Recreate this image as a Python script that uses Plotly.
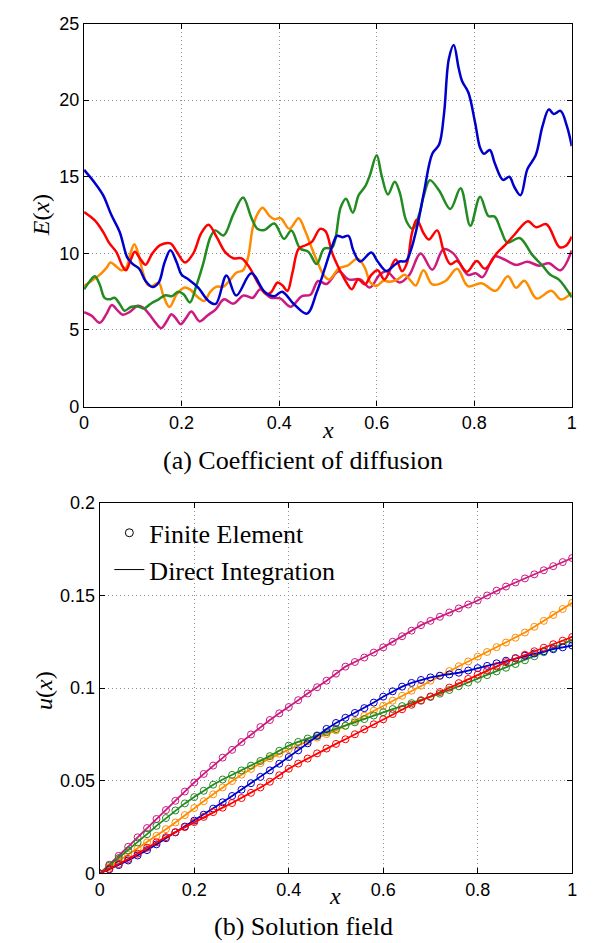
import plotly.graph_objects as go

# ---- (a) coefficient of diffusion E(x): five random realisations ----
blue_x = [0, 0.022, 0.039, 0.056, 0.073, 0.089, 0.1, 0.113, 0.126, 0.14, 0.153, 0.165, 0.177, 0.19, 0.2,
          0.214, 0.233, 0.255, 0.27, 0.292, 0.312, 0.343, 0.37, 0.39, 0.406, 0.43, 0.457, 0.477, 0.495,
          0.509, 0.519, 0.53, 0.542, 0.552, 0.566, 0.589, 0.602, 0.62, 0.633, 0.647, 0.66, 0.67, 0.684,
          0.697, 0.714, 0.728, 0.738, 0.748, 0.758, 0.768, 0.775, 0.788, 0.802, 0.812, 0.82, 0.832, 0.842,
          0.859, 0.872, 0.882, 0.895, 0.909, 0.926, 0.94, 0.953, 0.963, 0.977, 0.99, 1.0]
blue_E = [15.45, 14.6, 13.8, 12.5, 11.4, 9.7, 9.3, 9.0, 8.2, 7.8, 8.1, 9.4, 10.2, 9.4, 8.6,
          8.3, 7.8, 6.9, 6.7, 8.55, 7.25, 8.7, 7.5, 7.2, 7.5, 6.7, 6.07, 7.46, 9.15,
          10.5, 11.15, 11.05, 11.15, 10.2, 9.47, 10.05, 9.47, 8.85, 9.15, 9.47, 9.5, 10.2, 11.9,
          14.0, 16.5, 17.1, 19.1, 22.7, 23.6, 22.1, 21.25, 20.5, 18.5, 16.9, 16.5, 16.75, 15.9,
          14.8, 15.0, 14.35, 13.8, 15.5, 16.4, 18.3, 19.4, 19.1, 19.3, 18.3, 17.0]

red_x = [0, 0.022, 0.039, 0.052, 0.066, 0.079, 0.086, 0.096, 0.104, 0.116, 0.126, 0.14, 0.157, 0.177,
         0.19, 0.207, 0.224, 0.24, 0.255, 0.272, 0.289, 0.306, 0.323, 0.34, 0.356, 0.373, 0.383, 0.397,
         0.407, 0.417, 0.427, 0.44, 0.454, 0.467, 0.484, 0.495, 0.509, 0.526, 0.538, 0.549, 0.562, 0.576,
         0.589, 0.602, 0.616, 0.639, 0.652, 0.662, 0.672, 0.682, 0.697, 0.707, 0.724, 0.737, 0.751, 0.765,
         0.785, 0.805, 0.822, 0.846, 0.862, 0.882, 0.91, 0.927, 0.948, 0.975, 0.988, 1.0]
red_E = [12.7, 12.15, 11.4, 10.65, 10.1, 9.15, 8.9, 9.6, 10.1, 9.6, 9.26, 10.0, 10.55, 10.65,
         10.1, 9.4, 10.0, 11.3, 11.87, 11.06, 10.1, 9.68, 9.68, 9.04, 8.1, 7.35, 7.45, 8.1,
         7.9, 7.55, 8.7, 10.3, 10.53, 10.75, 11.6, 11.45, 10.0, 8.8, 8.1, 7.66, 8.3, 7.98,
         8.6, 8.9, 8.3, 9.6, 8.83, 9.36, 11.27, 12.2, 11.27, 10.9, 11.5, 10.2, 9.3, 9.5,
         8.8, 9.5, 9.0, 10.0, 10.5, 11.2, 12.1, 11.7, 11.9, 10.4, 10.5, 11.1]

green_x = [0, 0.012, 0.022, 0.032, 0.042, 0.052, 0.0625, 0.073, 0.083, 0.096, 0.11, 0.123, 0.136, 0.153,
           0.167, 0.18, 0.193, 0.204, 0.217, 0.23, 0.244, 0.259, 0.269, 0.286, 0.306, 0.326, 0.343, 0.356,
           0.37, 0.39, 0.41, 0.425, 0.443, 0.46, 0.477, 0.492, 0.509, 0.526, 0.537, 0.551, 0.563, 0.576,
           0.586, 0.6, 0.61, 0.623, 0.637, 0.647, 0.661, 0.674, 0.688, 0.697, 0.709, 0.728, 0.751, 0.772,
           0.792, 0.812, 0.829, 0.842, 0.855, 0.868, 0.893, 0.919, 0.94, 0.956, 0.973, 1.0]
green_E = [7.65, 8.2, 8.5, 7.97, 7.1, 7.0, 7.1, 6.7, 6.26, 6.5, 6.54, 6.4, 6.7, 7.0,
           7.27, 7.2, 7.5, 7.33, 6.8, 7.87, 9.3, 11.06, 11.5, 11.17, 12.55, 13.65, 12.33, 11.59,
           11.53, 11.95, 10.95, 11.5, 10.32, 10.1, 9.3, 10.3, 10.4, 13.0, 13.57, 12.66, 13.8, 14.35,
           15.1, 16.4, 15.1, 13.85, 14.67, 14.0, 12.1, 11.6, 12.65, 13.8, 14.78, 14.1, 12.9, 14.25,
           11.8, 13.7, 12.44, 12.4, 11.5, 10.7, 11.0, 9.9, 9.2, 8.6, 8.3, 7.13]

orange_x = [0, 0.015, 0.032, 0.046, 0.054, 0.066, 0.076, 0.086, 0.095, 0.103, 0.111, 0.12, 0.13, 0.14,
            0.153, 0.163, 0.175, 0.19, 0.205, 0.217, 0.234, 0.247, 0.259, 0.272, 0.286, 0.299, 0.312,
            0.326, 0.336, 0.346, 0.356, 0.366, 0.38, 0.39, 0.403, 0.421, 0.44, 0.453, 0.466, 0.479, 0.493,
            0.503, 0.523, 0.54, 0.561, 0.576, 0.587, 0.6, 0.613, 0.627, 0.643, 0.657, 0.67, 0.68, 0.696,
            0.714, 0.741, 0.765, 0.787, 0.815, 0.844, 0.869, 0.886, 0.903, 0.928, 0.958, 0.978, 1.0]
orange_E = [7.87, 8.2, 8.6, 9.05, 9.4, 9.15, 8.9, 9.05, 10.0, 10.6, 10.0, 8.83, 7.97, 7.87,
            8.08, 7.2, 6.5, 7.33, 7.76, 7.65, 7.12, 6.9, 7.5, 7.83, 7.83, 8.26, 8.74,
            8.9, 9.7, 11.7, 12.6, 12.98, 12.45, 12.23, 12.3, 11.6, 12.3, 11.49, 10.42, 9.4, 8.5,
            8.3, 9.04, 9.2, 9.65, 9.04, 8.1, 7.87, 8.2, 8.15, 8.3, 8.6, 8.2, 7.9, 8.9,
            7.98, 8.2, 9.0, 7.86, 8.05, 7.56, 8.5, 7.75, 8.22, 7.05, 7.56, 6.99, 7.44]

magenta_x = [0, 0.015, 0.032, 0.046, 0.057, 0.069, 0.079, 0.093, 0.11, 0.12, 0.133, 0.146, 0.158, 0.17,
             0.179, 0.187, 0.198, 0.209, 0.22, 0.237, 0.253, 0.27, 0.287, 0.306, 0.327, 0.346, 0.361,
             0.382, 0.402, 0.424, 0.446, 0.464, 0.48, 0.497, 0.522, 0.542, 0.566, 0.586, 0.606, 0.62,
             0.647, 0.667, 0.69, 0.714, 0.737, 0.757, 0.787, 0.803, 0.817, 0.842, 0.862, 0.886, 0.909,
             0.933, 0.953, 0.977, 1.0]
magenta_E = [6.16, 5.94, 5.47, 6.05, 6.63, 6.26, 6.0, 6.16, 6.58, 6.48, 6.05, 5.5, 5.12, 5.6,
             6.03, 5.8, 5.38, 5.77, 6.2, 5.56, 5.95, 6.35, 7.0, 6.72, 7.25, 7.1, 7.65,
             7.12, 7.06, 6.52, 7.2, 7.3, 8.2, 8.0, 8.83, 8.3, 8.3, 7.77, 8.6, 8.83,
             8.1, 8.6, 10.0, 8.93, 10.28, 10.0, 8.6, 8.7, 8.45, 9.8, 9.6, 9.25, 9.45,
             9.2, 9.35, 8.9, 10.2]

# ---- (b) solution field u(x), 51 nodes ----
x_nodes = [0.0, 0.02, 0.04, 0.06, 0.08, 0.1, 0.12, 0.14, 0.16, 0.18, 0.2, 0.22, 0.24, 0.26, 0.28, 0.3,
           0.32, 0.34, 0.36, 0.38, 0.4, 0.42, 0.44, 0.46, 0.48, 0.5, 0.52, 0.54, 0.56, 0.58, 0.6, 0.62,
           0.64, 0.66, 0.68, 0.7, 0.72, 0.74, 0.76, 0.78, 0.8, 0.82, 0.84, 0.86, 0.88, 0.9, 0.92, 0.94,
           0.96, 0.98, 1.0]
blue_u = [0, .0022, .0045, .0070, .0097, .0126, .0157, .0190, .0222, .0253, .0285, .0317, .0350, .0384,
          .0418, .0452, .0487, .0521, .0556, .0592, .0628, .0664, .0702, .0742, .0780, .0812, .0840,
          .0866, .0892, .0922, .0954, .0983, .1008, .1028, .1044, .1058, .1067, .1074, .1083, .1095,
          .1108, .1120, .1134, .1148, .1162, .1175, .1187, .1199, .1210, .1220, .1230]
red_u = [0, .0025, .0051, .0078, .0107, .0139, .0168, .0196, .0223, .0250, .0277, .0305, .0331, .0355,
         .0380, .0407, .0435, .0464, .0495, .0530, .0565, .0593, .0620, .0648, .0674, .0699, .0724,
         .0751, .0778, .0805, .0832, .0860, .0886, .0910, .0932, .0955, .0979, .1003, .1027, .1050,
         .1073, .1096, .1118, .1140, .1160, .1180, .1199, .1218, .1237, .1256, .1276]
green_u = [0, .0042, .0083, .0124, .0167, .0212, .0257, .0299, .0340, .0378, .0412, .0446, .0479, .0507,
           .0532, .0556, .0582, .0607, .0633, .0662, .0690, .0710, .0728, .0745, .0762, .0779, .0797,
           .0815, .0833, .0852, .0870, .0887, .0903, .0919, .0935, .0952, .0970, .0990, .1010, .1030,
           .1050, .1070, .1090, .1110, .1130, .1150, .1172, .1194, .1215, .1237, .1260]
orange_u = [0, .0034, .0068, .0101, .0134, .0168, .0203, .0239, .0275, .0315, .0353, .0390, .0427, .0464,
            .0499, .0533, .0564, .0595, .0621, .0646, .0670, .0692, .0713, .0733, .0752, .0772, .0797,
            .0824, .0851, .0878, .0905, .0932, .0959, .0986, .1013, .1040, .1066, .1092, .1118, .1144,
            .1170, .1195, .1221, .1246, .1272, .1300, .1331, .1363, .1395, .1427, .1460]
magenta_u = [0, .0047, .0095, .0144, .0195, .0245, .0294, .0342, .0392, .0442, .0491, .0537, .0582, .0625,
             .0667, .0709, .0750, .0790, .0828, .0864, .0898, .0935, .0971, .1005, .1040, .1078, .1116,
             .1141, .1165, .1192, .1220, .1250, .1280, .1310, .1340, .1363, .1385, .1408, .1430, .1451,
             .1473, .1500, .1526, .1548, .1570, .1592, .1614, .1636, .1658, .1680, .1702]

x_ticks = [0, 0.2, 0.4, 0.6, 0.8, 1]
x_ticktext = ["0", "0.2", "0.4", "0.6", "0.8", "1"]
E_ticks = [0, 5, 10, 15, 20, 25]
E_ticktext = ["0", "5", "10", "15", "20", "25"]
u_ticks = [0, 0.05, 0.1, 0.15, 0.2]
u_ticktext = ["0", "0.05", "0.1", "0.15", "0.2"]

legend_names = ["Finite Element", "Direct Integration"]

colors = {"blue": "#0000CC", "red": "#FF0000", "green": "#228B22",
          "orange": "#FF8C00", "magenta": "#CC1A80"}

fig = go.Figure()

# top panel curves
top_series = [("magenta", magenta_x, magenta_E), ("orange", orange_x, orange_E),
              ("green", green_x, green_E), ("red", red_x, red_E), ("blue", blue_x, blue_E)]
for name, xs, ys in top_series:
    fig.add_trace(go.Scatter(x=xs, y=ys, mode="lines", showlegend=False,
                             line=dict(color=colors[name], width=2.5, shape="spline", smoothing=1.0),
                             xaxis="x", yaxis="y"))

# bottom panel: FE nodes (circles) + direct integration (line)
bottom_series = [("magenta", magenta_u), ("orange", orange_u), ("green", green_u),
                 ("blue", blue_u), ("red", red_u)]
for name, us in bottom_series:
    fig.add_trace(go.Scatter(x=x_nodes, y=us, mode="lines+markers", showlegend=False,
                             line=dict(color=colors[name], width=1.8),
                             marker=dict(symbol="circle-open", size=7, color=colors[name],
                                         line=dict(width=1, color=colors[name])),
                             xaxis="x2", yaxis="y2"))

# legend entries in black
fig.add_trace(go.Scatter(x=[None], y=[None], mode="markers", name=legend_names[0],
                         marker=dict(symbol="circle-open", size=8, color="black",
                                     line=dict(width=1, color="black")),
                         xaxis="x2", yaxis="y2"))
fig.add_trace(go.Scatter(x=[None], y=[None], mode="lines", name=legend_names[1],
                         line=dict(color="black", width=1), xaxis="x2", yaxis="y2"))

W, H = 596, 943
tick_font = dict(family="Liberation Sans", size=18, color="black")
axis_common = dict(showline=True, linecolor="black", linewidth=1.3, mirror="ticks",
                   ticks="inside", ticklen=5, tickcolor="black", tickwidth=1,
                   showgrid=True, gridcolor="#909090", griddash="1px,3px", gridwidth=1,
                   zeroline=False, tickfont=tick_font)

fig.update_layout(
    width=W, height=H,
    margin=dict(l=0, r=0, t=0, b=0),
    paper_bgcolor="white", plot_bgcolor="white",
    xaxis=dict(domain=[72.3 / W, 568.3 / W], range=[0, 1], tickvals=x_ticks,
               ticktext=x_ticktext, anchor="y", **axis_common),
    yaxis=dict(domain=[1 - 397 / H, 1 - 5.7 / H], range=[0, 25], tickvals=E_ticks,
               ticktext=E_ticktext, anchor="x", **axis_common),
    xaxis2=dict(domain=[88.3 / W, 568.7 / W], range=[0, 1], tickvals=x_ticks,
                ticktext=x_ticktext, anchor="y2", **axis_common),
    yaxis2=dict(domain=[1 - 874 / H, 1 - 495.3 / H], range=[0, 0.2], tickvals=u_ticks,
                ticktext=u_ticktext, anchor="x2", **axis_common),
    legend=dict(x=98 / W, y=1 - 502 / H, xanchor="left", yanchor="top",
                bgcolor="rgba(0,0,0,0)", borderwidth=0,
                font=dict(family="Liberation Serif", size=26, color="black"),
                itemwidth=30, tracegroupgap=0),
)

serif = "Liberation Serif"
annotations = [
    dict(text="<i>E</i>(<i>x</i>)", x=28 / W, y=1 - 202 / H, textangle=-90, size=24),
    dict(text="<i>x</i>", x=320 / W, y=1 - 421 / H, textangle=0, size=24),
    dict(text="(a) Coefficient of diffusion", x=295 / W, y=1 - 452 / H, textangle=0, size=26),
    dict(text="<i>u</i>(<i>x</i>)", x=32 / W, y=1 - 687 / H, textangle=-90, size=24),
    dict(text="<i>x</i>", x=328 / W, y=1 - 897 / H, textangle=0, size=24),
    dict(text="(b) Solution field", x=295 / W, y=1 - 928 / H, textangle=0, size=26),
]
for a in annotations:
    fig.add_annotation(text=a["text"], x=a["x"], y=a["y"], xref="paper", yref="paper",
                       xanchor="center", yanchor="middle", textangle=a["textangle"],
                       showarrow=False, font=dict(family=serif, size=a["size"], color="black"))

fig.write_html("out.html")
